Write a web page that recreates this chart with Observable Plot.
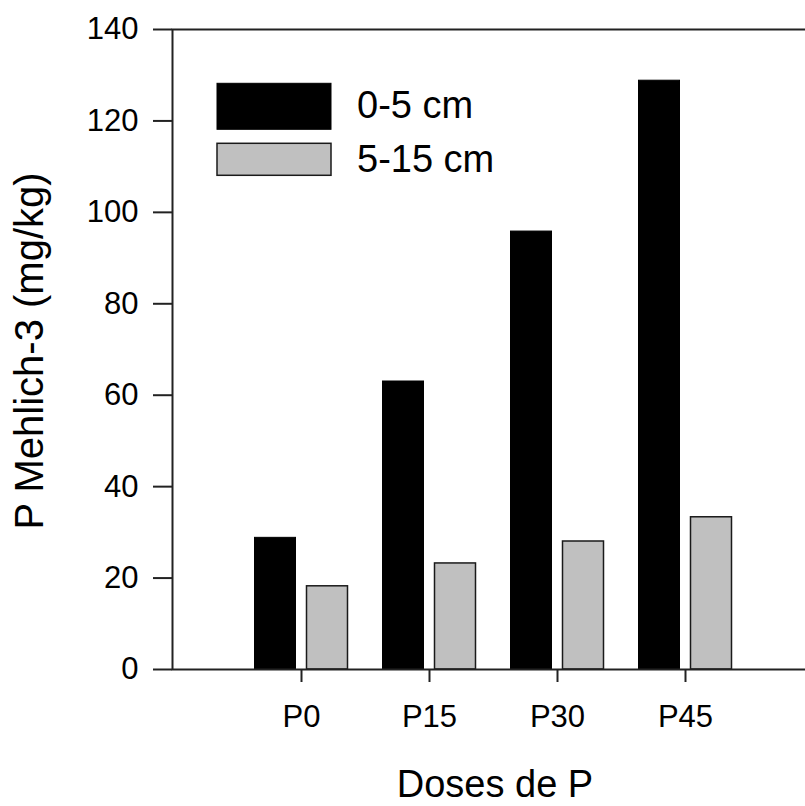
<!DOCTYPE html>
<html><head><meta charset="utf-8">
<script src="https://cdn.jsdelivr.net/npm/d3@7"></script>
<script src="https://cdn.jsdelivr.net/npm/@observablehq/plot@0.6"></script>
<style>body{margin:0;background:#fff;} #chart{width:805px;height:806px;}</style>
</head><body><div id="chart"></div>
<script>
const doses = ["P0", "P15", "P30", "P45"];
const depth0_5 = [28.8, 63.0, 95.8, 128.8];
const depth5_15 = [18.2, 23.2, 28.0, 33.3];
const seriesNames = ["0-5 cm", "5-15 cm"];
const seriesFills = ["#000000", "#c0c0c0"];
const yTicks = [0, 20, 40, 60, 80, 100, 120, 140];
const xTitle = "Doses de P";
const yTitle = "P Mehlich-3 (mg/kg)";

const rows = doses.flatMap((d, i) => [
  {dose: d, depth: seriesNames[0], value: depth0_5[i]},
  {dose: d, depth: seriesNames[1], value: depth5_15[i]}
]);
const font = "'Liberation Sans', Arial, sans-serif";

const plot = Plot.plot({
  width: 805, height: 806,
  marginLeft: 172, marginTop: 29, marginBottom: 137, marginRight: -3,
  style: {fontFamily: font, background: "#fff", color: "#000"},
  x: {domain: doses, range: [173, 813], paddingInner: 0, paddingOuter: 0.5},
  y: {domain: [0, 140]},
  marks: [
    Plot.barY(rows.filter(d => d.depth === seriesNames[0]), {
      x: "dose", y: "value", fill: seriesFills[0], stroke: "#000", strokeWidth: 1,
      insetLeft: 17.5, insetRight: 69.5
    }),
    Plot.barY(rows.filter(d => d.depth === seriesNames[1]), {
      x: "dose", y: "value", fill: seriesFills[1], stroke: "#1a1a1a", strokeWidth: 1.5,
      insetLeft: 69.5, insetRight: 17.5
    }),
    Plot.frame({stroke: "#222", strokeWidth: 2}),
    Plot.axisY({ticks: yTicks, tickSize: 19, tickPadding: 15, fontSize: 31,
      stroke: "#222", strokeWidth: 2, label: null, tickFormat: d => String(d)}),
    Plot.axisX({tickSize: 13, tickPadding: 22, fontSize: 31,
      stroke: "#222", strokeWidth: 2, label: null})
  ]
});

const svg = d3.select(plot);
svg.append("text")
  .attr("x", 495).attr("y", 797)
  .attr("text-anchor", "middle")
  .attr("font-size", 38).attr("font-family", font).attr("fill", "#000")
  .text(xTitle);
svg.append("text")
  .attr("transform", "translate(43,351) rotate(-90)")
  .attr("text-anchor", "middle")
  .attr("font-size", 40).attr("font-family", font).attr("fill", "#000")
  .text(yTitle);

const legend = svg.append("g");
const swatches = [{y: 83.3, h: 46, ty: 118.3}, {y: 143.3, h: 32, ty: 171.7}];
seriesNames.forEach((name, i) => {
  legend.append("rect")
    .attr("x", 217).attr("y", swatches[i].y)
    .attr("width", 114).attr("height", swatches[i].h)
    .attr("fill", seriesFills[i])
    .attr("stroke", i === 0 ? "#000" : "#1a1a1a")
    .attr("stroke-width", i === 0 ? 1 : 1.5);
  legend.append("text")
    .attr("x", 357).attr("y", swatches[i].ty)
    .attr("text-anchor", "start")
    .attr("font-size", 38).attr("font-family", font).attr("fill", "#000")
    .text(name);
});

document.getElementById("chart").appendChild(plot);
</script>
</body></html>
